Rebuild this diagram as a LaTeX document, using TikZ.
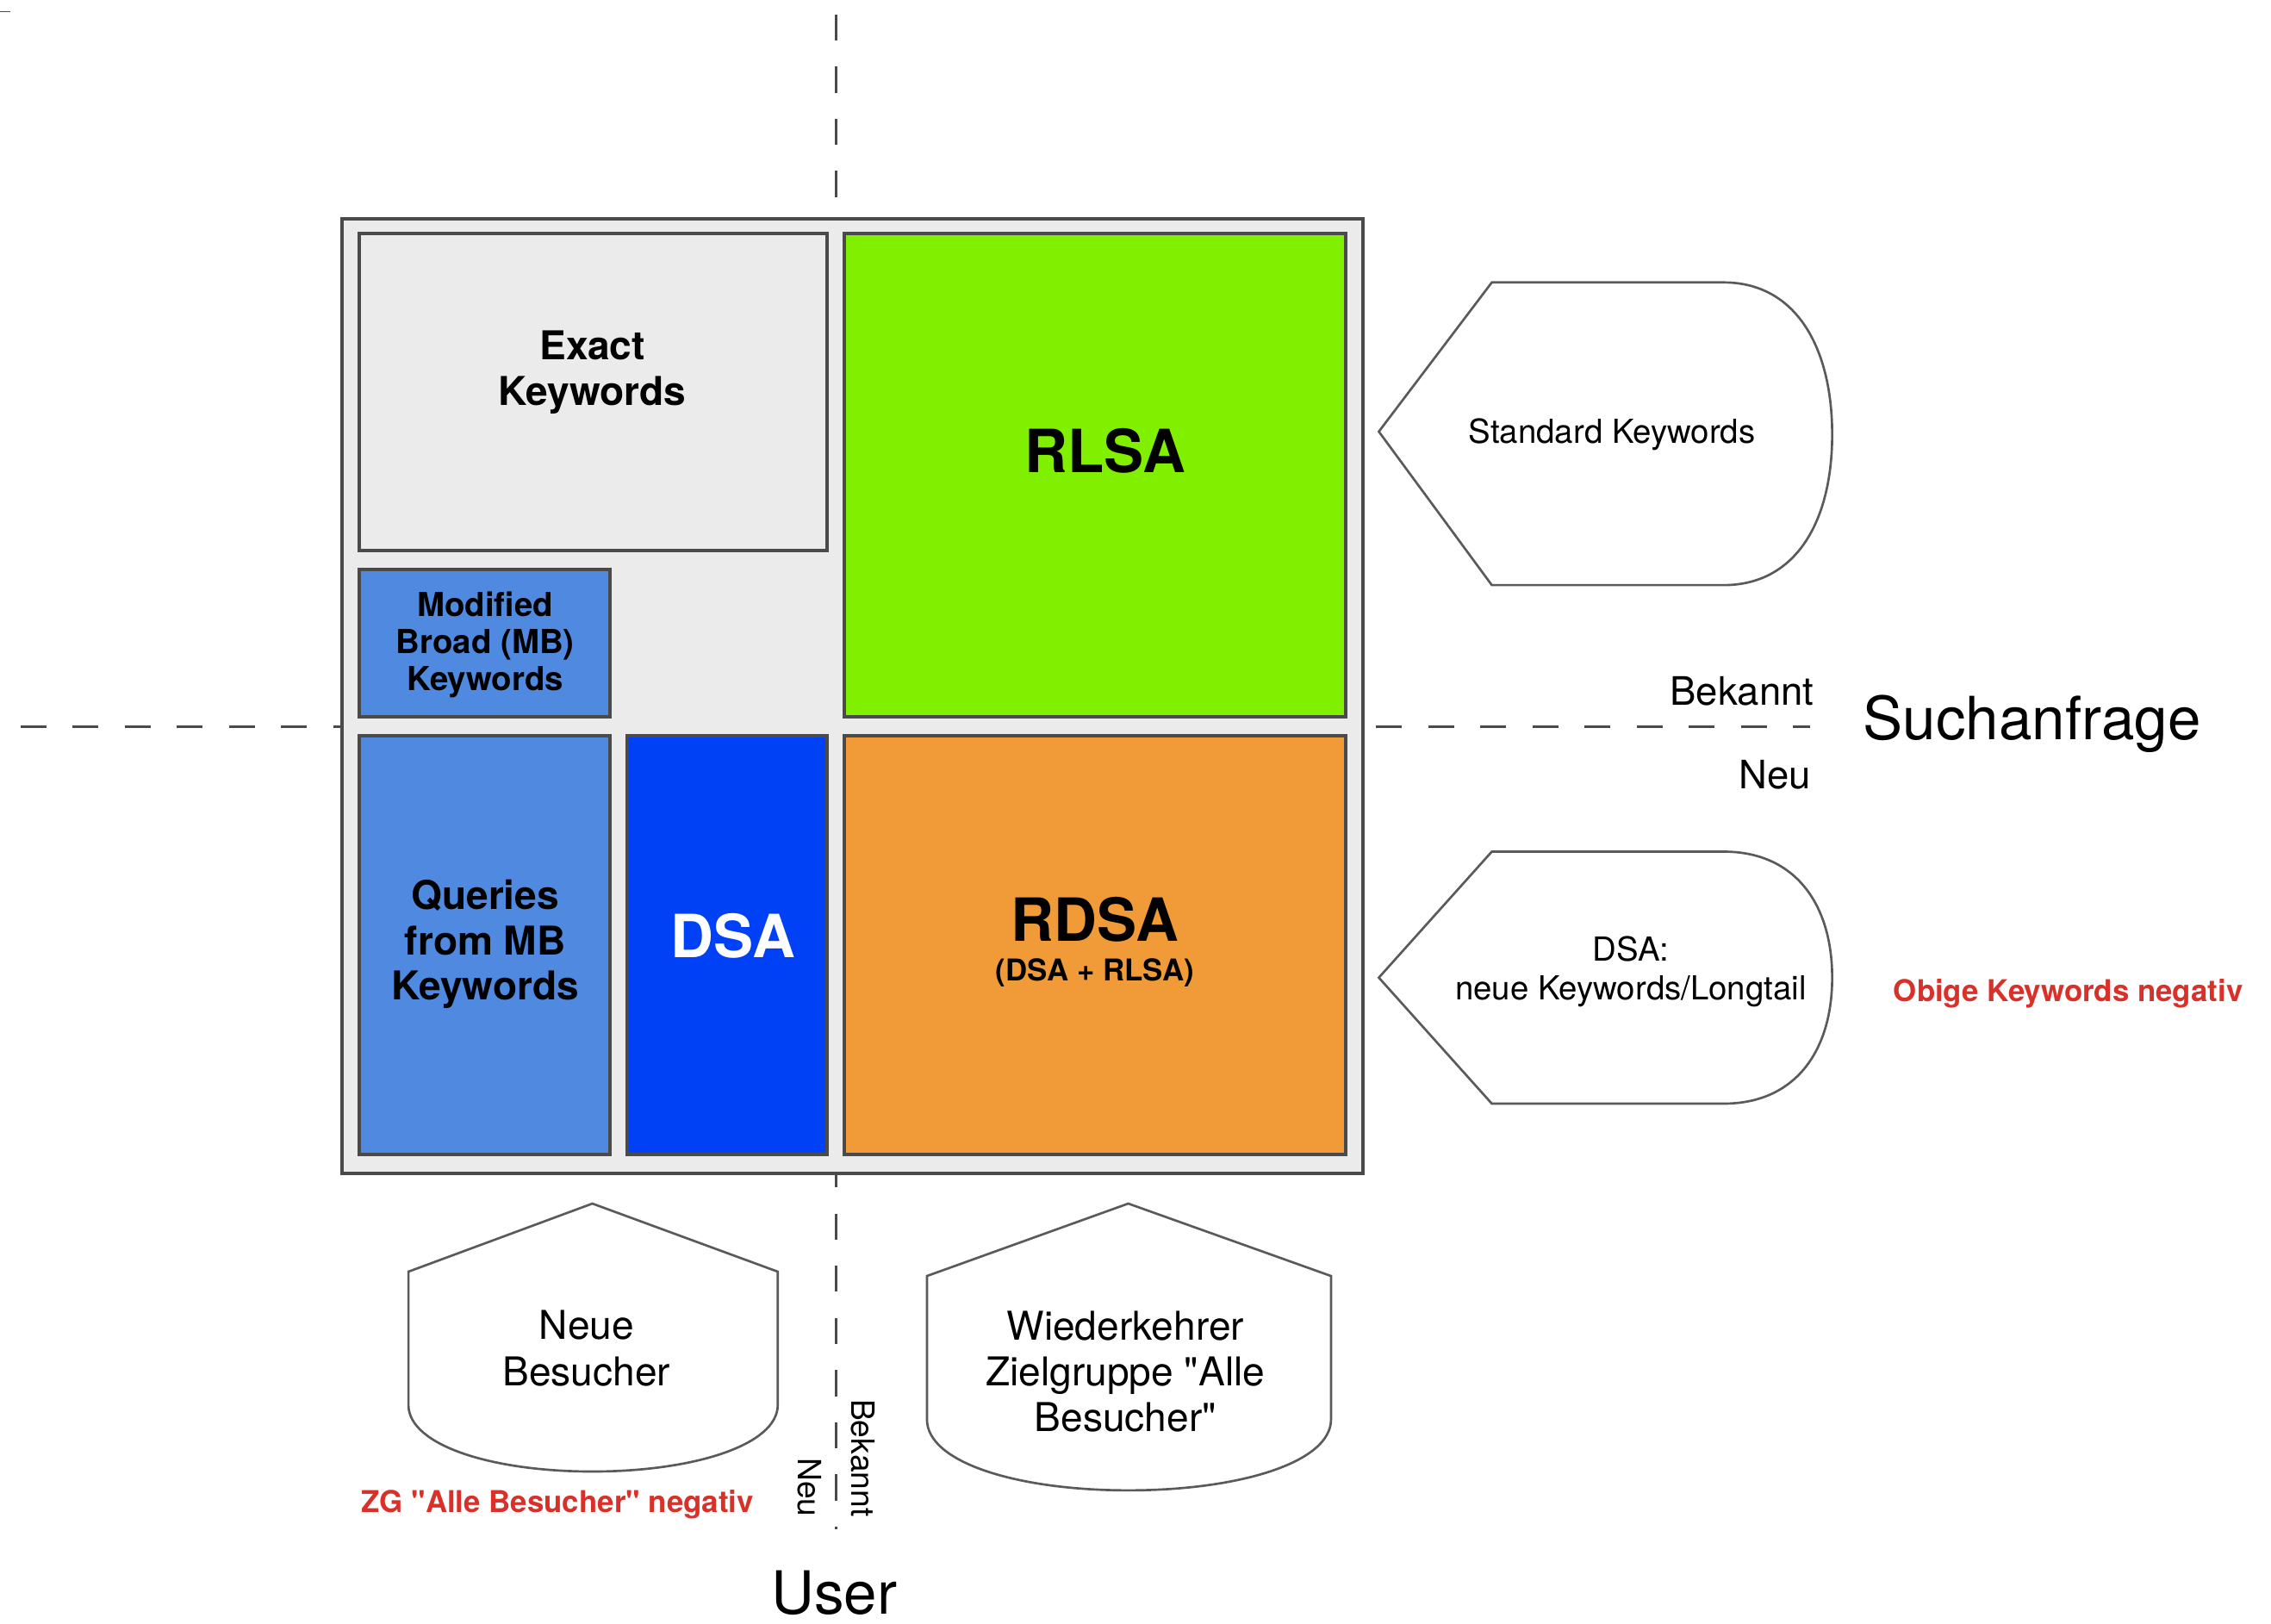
\documentclass[tikz,border=0pt]{standalone}
\usepackage{fontspec}
\setmainfont{TeX Gyre Heros}[Ligatures=TeXOff]
\usetikzlibrary{positioning}

\definecolor{boxgray}{HTML}{EBEBEB}
\definecolor{edgegray}{HTML}{4A4A4A}
\definecolor{tagedge}{HTML}{5A5A5A}
\definecolor{rlsagreen}{HTML}{80F000}
\definecolor{mbblue}{HTML}{4F8AE0}
\definecolor{dsablue}{HTML}{0041F5}
\definecolor{rdsaorange}{HTML}{F09B38}
\definecolor{negred}{HTML}{D93029}

\tikzset{
	field/.style={draw=edgegray, line width=0.7pt},
	axisline/.style={draw=edgegray, line width=0.5pt, dash pattern=on 0.18cm off 0.18cm},
	tagshape/.style={draw=tagedge, line width=0.45pt, fill=white},
	boldhuge/.style={inner sep=0pt, font=\fontsize{11.7}{14}\selectfont\bfseries},
	boldmid/.style={inner sep=0pt, align=center, font=\fontsize{7.8}{8.9}\selectfont\bfseries},
	boldsmall/.style={inner sep=0pt, align=center, font=\fontsize{6.5}{7.3}\selectfont\bfseries},
	boldtiny/.style={inner sep=0pt, font=\fontsize{5.9}{7}\selectfont\bfseries},
	redtext/.style={inner sep=0pt, text=negred, font=\fontsize{5.9}{7}\selectfont\bfseries},
	plainhuge/.style={inner sep=0pt, font=\fontsize{11.7}{14}\selectfont},
	plainmid/.style={inner sep=0pt, align=center, font=\fontsize{7.8}{9}\selectfont},
	plainsmall/.style={inner sep=0pt, align=center, font=\fontsize{6.5}{7.7}\selectfont},
	axisname/.style={inner sep=0pt, font=\fontsize{7.7}{9}\selectfont},
	axisnamev/.style={inner sep=0pt, font=\fontsize{6.3}{7.5}\selectfont}
}

\begin{document}
\begin{tikzpicture}
		\useasboundingbox (0,0) rectangle (15.68,-11.21);
		\draw[edgegray, line width=0.3pt] (0,-0.08) -- (0.07,-0.08);
		\draw[axisline] (0.14,-5.02) -- (12.50,-5.02);
		\draw[axisline] (5.77,-0.10) -- (5.77,-10.56);

		\filldraw[field, fill=boxgray] (2.36,-1.51) rectangle (9.41,-8.10);
		\filldraw[field, fill=boxgray] (2.48,-1.61) rectangle (5.71,-3.80);
		\filldraw[field, fill=rlsagreen] (5.83,-1.61) rectangle (9.29,-4.95);
		\filldraw[field, fill=mbblue] (2.48,-3.93) rectangle (4.21,-4.95);
		\filldraw[field, fill=mbblue] (2.48,-5.08) rectangle (4.21,-7.97);
		\filldraw[field, fill=dsablue] (4.33,-5.08) rectangle (5.71,-7.97);
		\filldraw[field, fill=rdsaorange] (5.83,-5.08) rectangle (9.29,-7.97);

		\node[boldmid] (exact) at (4.09,-2.57) {Exact\\Keywords};
		\node[boldhuge] (rlsa) at (7.63,-3.11) {RLSA};
		\node[boldsmall] (modified) at (3.35,-4.45) {Modified\\Broad (MB)\\Keywords};
		\node[boldmid] (queries) at (3.35,-6.52) {Queries\\from MB\\Keywords};
		\node[boldhuge, text=white] (dsa) at (5.06,-6.46) {DSA};
		\node[boldhuge] (rdsa) at (7.56,-6.35) {RDSA};
		\node[boldtiny, below=0.1cm of rdsa] (rdsasub) {(DSA + RLSA)};

		\filldraw[tagshape] (9.52,-2.98) -- (10.30,-1.95) -- (11.90,-1.95) .. controls (12.40,-1.95) and (12.65,-2.40) .. (12.65,-3.00) .. controls (12.65,-3.60) and (12.40,-4.04) .. (11.90,-4.04) -- (10.30,-4.04) -- cycle;
		\node[plainsmall] (standard) at (11.13,-3.00) {Standard Keywords};
		\filldraw[tagshape] (9.52,-6.75) -- (10.30,-5.88) -- (11.90,-5.88) .. controls (12.40,-5.88) and (12.65,-6.25) .. (12.65,-6.75) .. controls (12.65,-7.25) and (12.40,-7.62) .. (11.90,-7.62) -- (10.30,-7.62) -- cycle;
		\node[plainsmall] (longtail) at (11.26,-6.71) {DSA:\\neue Keywords/Longtail};

		\node[axisname, anchor=east] (bekannth) at (12.53,-4.77) {Bekannt};
		\node[axisname, anchor=east] (neuh) at (12.51,-5.35) {Neu};
		\node[plainhuge] (suchanfrage) at (14.03,-5.00) {Suchanfrage};
		\node[redtext] (obige) at (14.28,-6.86) {Obige Keywords negativ};

		\filldraw[tagshape] (4.09,-8.31) -- (5.37,-8.78) -- (5.37,-9.70) .. controls (5.37,-9.98) and (4.78,-10.16) .. (4.09,-10.16) .. controls (3.40,-10.16) and (2.82,-9.98) .. (2.82,-9.70) -- (2.82,-8.78) -- cycle;
		\node[plainmid] (neuebesucher) at (4.05,-9.31) {Neue\\Besucher};
		\filldraw[tagshape] (7.79,-8.31) -- (9.19,-8.81) -- (9.19,-9.80) .. controls (9.19,-10.10) and (8.55,-10.29) .. (7.79,-10.29) .. controls (7.03,-10.29) and (6.40,-10.10) .. (6.40,-9.80) -- (6.40,-8.81) -- cycle;
		\node[plainmid] (wiederkehrer) at (7.77,-9.47) {Wiederkehrer\\Zielgruppe "Alle\\Besucher"};
		\node[redtext] (zg) at (3.85,-10.39) {ZG "Alle Besucher" negativ};

		\node[axisnamev, rotate=-90, anchor=east] (bekanntv) at (5.96,-10.48) {Bekannt};
		\node[axisnamev, rotate=-90, anchor=east] (neuv) at (5.59,-10.48) {Neu};
		\node[plainhuge] (user) at (5.76,-11.00) {User};
\end{tikzpicture}
\end{document}
